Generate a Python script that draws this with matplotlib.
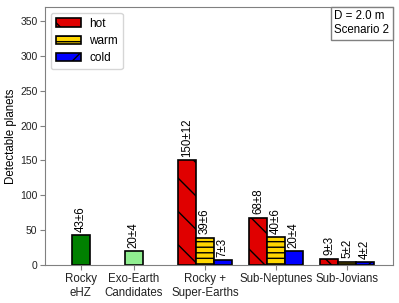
import matplotlib
matplotlib.use('Agg')
import matplotlib.pyplot as plt
from matplotlib.offsetbox import AnchoredText
import numpy as np

plt.rcParams['font.family'] = ['Liberation Sans', 'DejaVu Sans']

categories = ['Rocky\neHZ', 'Exo-Earth\nCandidates', 'Rocky +\nSuper-Earths', 'Sub-Neptunes', 'Sub-Jovians']
cat_pos = [-1.75, -1.0, 0.0, 1.0, 2.0]

# single bars
single_vals = [43, 20]
single_errs = [6, 4]
single_colors = ['green', 'lightgreen']

# grouped bars (Rocky+SE, Sub-Neptunes, Sub-Jovians)
hot = [150, 68, 9]
hot_err = [12, 8, 3]
warm = [39, 40, 5]
warm_err = [6, 6, 2]
cold = [7, 20, 4]
cold_err = [3, 4, 2]

width = 0.25
spine_col = '#808080'

fig = plt.figure(figsize=(3.99, 3.03), dpi=100)
ax = fig.add_axes([0.113, 0.125, 0.871, 0.852])

def label(x, v, e):
    ax.annotate('%d\u00b1%d' % (v, e), (x, v), xytext=(0, 2.5), textcoords='offset points',
                rotation=90, ha='center', va='bottom', fontsize=8.3)

for x, v, e, c in zip(cat_pos[:2], single_vals, single_errs, single_colors):
    ax.bar(x, v, width, color=c, edgecolor='black', linewidth=1.2)
    label(x, v, e)

gx = np.array(cat_pos[2:])
series = [(hot, hot_err, '#e00000', '\\', 'hot', -width),
          (warm, warm_err, 'gold', '---', 'warm', 0),
          (cold, cold_err, 'blue', '/', 'cold', width)]
for vals, errs, c, h, name, off in series:
    ax.bar(gx + off, vals, width, color=c, edgecolor='black', hatch=h, linewidth=1.2, label=name)
    for x, v, e in zip(gx + off, vals, errs):
        label(x, v, e)

ax.set_xlim(-2.25, 2.64)
ax.set_ylim(0, 370)
ax.set_xticks(cat_pos)
ax.set_xticklabels(categories, fontsize=8.3)
ax.set_yticks(np.arange(0, 351, 50))
ax.tick_params(axis='y', labelsize=7.5, color=spine_col, labelcolor='#222222', length=3.5, pad=2)
ax.tick_params(axis='x', color=spine_col, labelcolor='#222222', length=3.5, pad=2)
ax.set_ylabel('Detectable planets', fontsize=8.3, labelpad=2)
for s in ax.spines.values():
    s.set_color(spine_col)

ax.legend(loc='upper left', fontsize=8.5, handlelength=2.1, handleheight=0.7,
          labelspacing=0.45, handletextpad=0.75, borderaxespad=0.5)
at = AnchoredText('D = 2.0 m\nScenario 2', loc='upper right', pad=0.3, borderpad=0,
                  prop=dict(fontsize=8.3))
at.patch.set_boxstyle('square,pad=0')
at.patch.set_edgecolor(spine_col)
ax.add_artist(at)

plt.savefig('out.png', dpi=100)
